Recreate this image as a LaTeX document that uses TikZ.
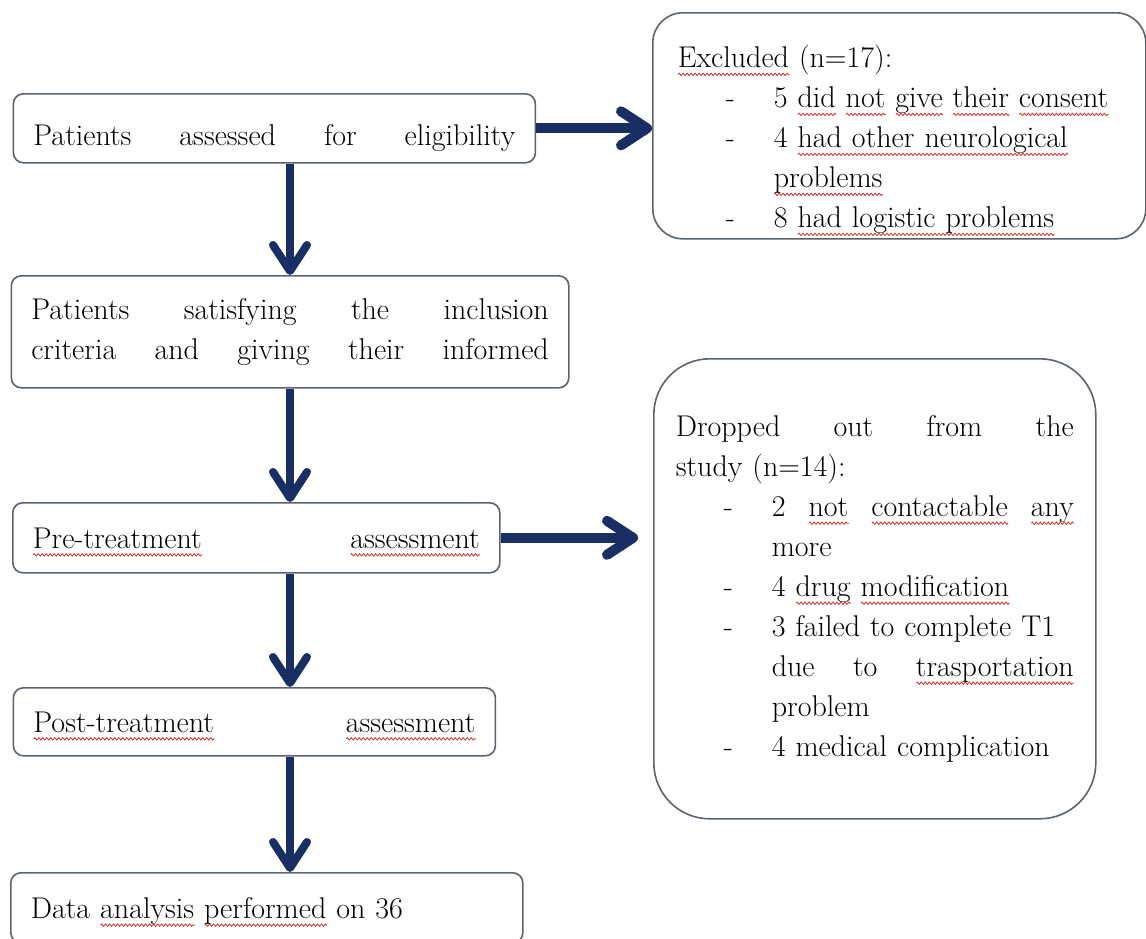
\documentclass[tikz,border=0pt]{standalone}
\usetikzlibrary{arrows.meta,decorations.pathmorphing}
\definecolor{arrownavy}{HTML}{1A2E66}
\definecolor{boxgray}{HTML}{5A6370}
\definecolor{spellred}{HTML}{D2322B}
\tikzstyle{boxnode} = [draw=boxgray,line width=0.8pt,rounded corners=5pt,anchor=north west,inner xsep=10pt,inner ysep=0pt,align=left,font=\fontsize{15}{20}\selectfont]
\tikzstyle{oneline} = [boxnode,text depth=0pt]
\tikzstyle{navyarrow} = [draw=arrownavy,line width=4pt,-{Straight Barb[length=13pt,width=17pt,round]}]
\tikzstyle{squiggle} = [draw=spellred,line width=0.4pt,sharp corners,decorate,decoration={zigzag,amplitude=0.6pt,segment length=2pt}]
\newsavebox\spellbox
\newlength\spellwd
\newcommand\spellwave[1]{\sbox\spellbox{#1}\setlength\spellwd{\wd\spellbox}\leavevmode\rlap{\tikz[baseline=0pt,x=1pt,y=1pt]\path[squiggle] (0pt,-3.4pt) -- (\spellwd,-3.4pt);}\usebox\spellbox}
\newcommand\itemdash{\makebox[48pt][l]{\hspace*{24pt}-}}
\newcommand\itemgap{\hspace*{48pt}}
\newcommand\exclpad{\hspace*{10pt}}

\begin{document}
\begin{tikzpicture}[x=0.5pt,y=-0.5pt]
\useasboundingbox (0,0) rectangle (1146,938);
\coordinate (spine) at (290,0);

\node[oneline,text height=17pt,text width=241pt,minimum height=34.5pt] (elig) at (12.6,93) {Patients\hfill assessed\hfill for\hfill eligibility};
\node[boxnode,text width=258.75pt,minimum height=56pt] (crit) at (10.5,275) {Patients\hfill satisfying\hfill the\hfill inclusion\\ criteria\hfill and\hfill giving\hfill their\hfill informed};
\node[oneline,text width=223.5pt,minimum height=35pt] (pre) at (12,502) {\spellwave{Pre-treatment}\hfill\spellwave{assessment}};
\node[oneline,text width=221pt,minimum height=34pt] (post) at (12.6,687) {\spellwave{Post-treatment}\hfill\spellwave{assessment}};
\node[oneline,text width=236pt,minimum height=35pt] (data) at (10,872) {Data \spellwave{analysis} \spellwave{performed} on 36};

\node[boxnode,rounded corners=15pt,inner xsep=2.5pt,text width=241.5pt,minimum height=113pt] (excl) at (652,12) {\exclpad\rule{0pt}{26pt}\spellwave{Excluded} (n=17):\\
\exclpad\itemdash 5 \spellwave{did} \spellwave{not} \spellwave{give} \spellwave{their} \spellwave{consent}\\
\exclpad\itemdash 4 \spellwave{had other neurological}\\
\exclpad\itemgap\spellwave{problems}\\
\exclpad\itemdash 8 \spellwave{had logistic problems}};
\node[boxnode,rounded corners=28pt,inner xsep=11pt,text width=199pt,minimum height=230pt] (drop) at (653,358) {Dropped\hfill out\hfill from\hfill the\\
study (n=14):\\
\itemdash 2\hfill\spellwave{not}\hfill\spellwave{contactable}\hfill\spellwave{any}\\
\itemgap more\\
\itemdash 4 \spellwave{drug} \spellwave{modification}\\
\itemdash 3 failed to complete T1\\
\itemgap due\hfill to\hfill\spellwave{trasportation}\\
\itemgap problem\\
\itemdash 4 medical complication};

\draw[navyarrow] (elig.south -| spine) -- (crit.north -| spine);
\draw[navyarrow] (crit.south -| spine) -- (pre.north -| spine);
\draw[navyarrow] (pre.south -| spine) -- (post.north -| spine);
\draw[navyarrow] (post.south -| spine) -- (data.north -| spine);
\draw[navyarrow,line width=5pt] (elig.east) -- (elig.east -| excl.west);
\draw[navyarrow,line width=5pt,shorten >=7.5pt] (pre.east) -- (pre.east -| drop.west);
\end{tikzpicture}
\end{document}
